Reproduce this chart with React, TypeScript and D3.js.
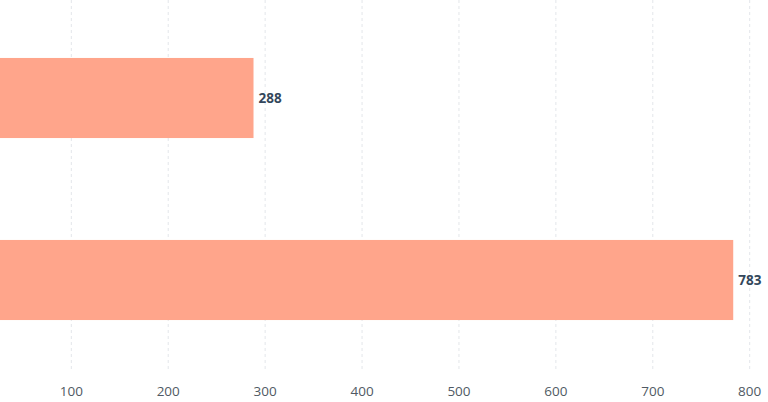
import React from "react";
import * as d3 from "d3";

const categories = ["Category A", "Category B"];
const values = [288, 783];
const tickValues = [100, 200, 300, 400, 500, 600, 700, 800];

const W = 768;
const H = 402;

export default function App() {
  const x = d3.scaleLinear().domain([0, 800]).range([-25.6, 749.7]);
  const y = d3.scaleBand<string>().domain(categories).range([7, 371]).paddingInner(0.56).paddingOuter(0.28);
  const font = "'Open Sans', Lato, sans-serif";
  return (
    <svg width={W} height={H} style={{ position: "absolute", left: 0, top: 0, display: "block" }}>
      <rect width={W} height={H} fill="#ffffff" />
      {tickValues.map((t) => (
        <g key={t}>
          <line x1={x(t)} x2={x(t)} y1={0} y2={372} stroke="#e3e6ea" strokeDasharray="3,3" strokeWidth={1} />
          <text x={x(t)} y={396} textAnchor="middle" fontFamily={font} fontSize={13.5} fill="#505a64">
            {t}
          </text>
        </g>
      ))}
      {categories.map((c, i) => (
        <g key={c}>
          <rect x={x(0)} y={y(c)!} width={x(values[i]) - x(0)} height={y.bandwidth()} fill="#ffa58b" />
          <text
            x={x(values[i]) + 5}
            y={y(c)! + y.bandwidth() / 2}
            dy="0.35em"
            fontFamily={font}
            fontSize={13.5}
            fontWeight={700}
            fill="#33475b"
          >
            {values[i]}
          </text>
        </g>
      ))}
    </svg>
  );
}
